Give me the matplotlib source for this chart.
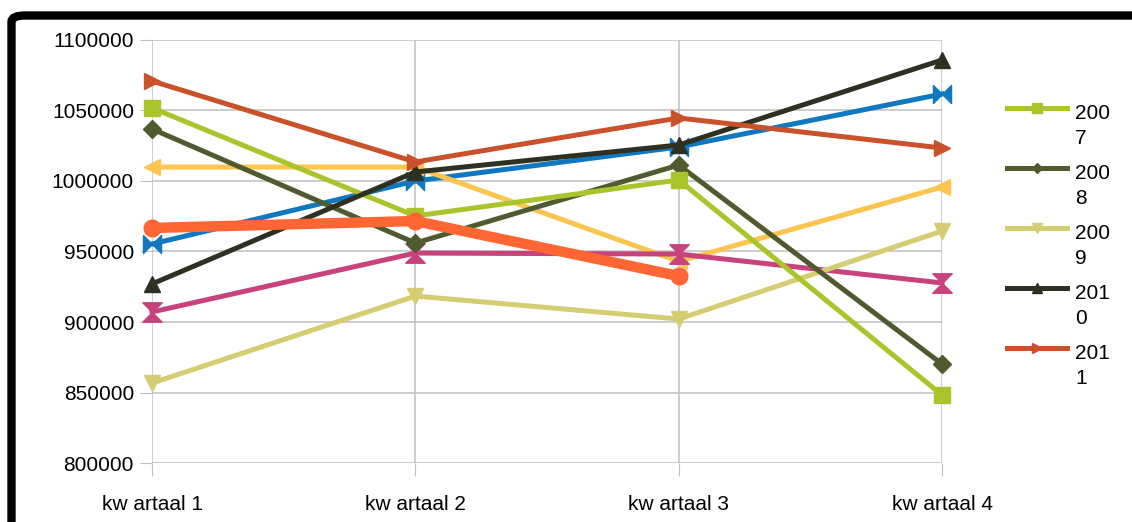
import numpy as np
import matplotlib.pyplot as plt
from matplotlib.lines import Line2D
from matplotlib.patches import FancyBboxPatch
from matplotlib.ticker import StrMethodFormatter

plt.rcParams['font.family'] = ['Liberation Sans', 'DejaVu Sans']

categories = ['kw artaal 1', 'kw artaal 2', 'kw artaal 3', 'kw artaal 4']
y2007 = [1051800, 975200, 1000700, 848200]
y2008 = [1036900, 956000, 1011300, 870200]
y2009 = [856700, 918400, 902100, 964500]
y2010 = [927000, 1006400, 1025500, 1085800]
y2011 = [1070900, 1013500, 1044700, 1023400]
y2012 = [955300, 1000000, 1024100, 1061700]
y2013 = [1009900, 1009900, 943000, 995700]
y2014 = [907100, 948900, 948200, 927700]
y2015 = [966700, 971600, 932600]
legend_labels = ['200\n7', '200\n8', '200\n9', '201\n0', '201\n1']

# bowtie markers
bow_h = [(-1, 1), (-1, -1), (1, 1), (1, -1), (-1, 1)]
bow_v = [(-1, 1), (1, 1), (-1, -1), (1, -1), (-1, 1)]

W, H = 1132, 522
fig = plt.figure(figsize=(W / 100, H / 100), dpi=100)
ax = fig.add_axes([0.1343, 0.113, 0.6979, 0.8104])

x = np.arange(len(categories))
lw = 3.6
series = [
    (y2012, '#0f78be', bow_h, 13),
    (y2013, '#fcc54f', '<', 12),
    (y2014, '#c8437c', bow_v, 14),
    (y2009, '#d4cd72', 'v', 12),
    (y2008, '#4f5b2e', 'D', 9),
    (y2007, '#aac52b', 's', 12),
    (y2010, '#2e3022', '^', 12),
    (y2011, '#c9522a', '>', 12),
]
for vals, col, mk, ms in series:
    ax.plot(x[:len(vals)], vals, color=col, marker=mk, markersize=ms,
            linewidth=lw, solid_joinstyle='miter', clip_on=False, zorder=3)
ax.plot(x[:len(y2015)], y2015, color='#ff6633', marker='o', markersize=12,
        linewidth=7.5, clip_on=False, zorder=4)

ax.set_xlim(0, 3)
ax.set_ylim(800000, 1100000)
ax.set_yticks(np.arange(800000, 1100001, 50000))
ax.yaxis.set_major_formatter(StrMethodFormatter('{x:.0f}'))
ax.set_xticks(x)
ax.set_xticklabels(categories, fontsize=15)
ax.tick_params(axis='y', labelsize=15, length=9, color='#c0c0c0', pad=4)
ax.tick_params(axis='x', length=9, color='#c0c0c0', pad=14)
ax.grid(True, color='#c0c0c0', linewidth=1.1)
ax.set_axisbelow(True)
for s in ax.spines.values():
    s.set_visible(False)

# legend drawn by hand (only the first five entries are visible)
leg_style = [('#aac52b', 's', 7), ('#4f5b2e', 'D', 5.5), ('#d4cd72', 'v', 7),
             ('#2e3022', '^', 7), ('#c9522a', '>', 7)]
for i, (lab, (col, mk, ms)) in enumerate(zip(legend_labels, leg_style)):
    yy = 1 - (108 + 60 * i) / H
    fig.add_artist(Line2D([1007 / W, 1067 / W], [yy, yy], color=col, linewidth=3.6,
                          marker=None, transform=fig.transFigure))
    fig.add_artist(Line2D([1037 / W], [yy], color=col, marker=mk, markersize=ms,
                          linestyle='none', transform=fig.transFigure))
    fig.text(1075 / W, yy + 4 / H, lab, fontsize=15, va='top', ha='left',
             linespacing=1.4)

frame = FancyBboxPatch((11.5 / W, -0.2), 1.2, 1.2 - 15.5 / H,
                       boxstyle='round,pad=0,rounding_size=0.012',
                       transform=fig.transFigure, facecolor='none',
                       edgecolor='black', linewidth=6, zorder=10)
fig.patches.append(frame)

fig.savefig('out.png', dpi=100)
